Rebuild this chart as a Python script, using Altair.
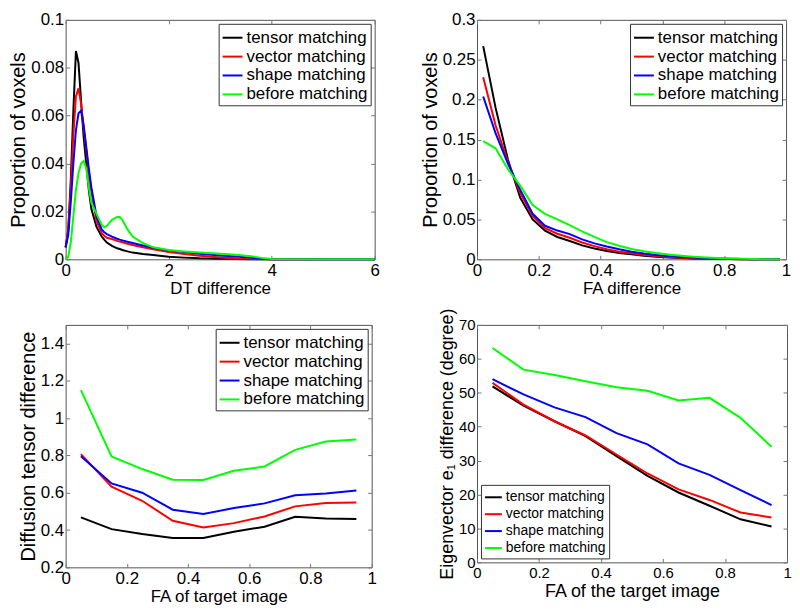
import altair as alt
import pandas as pd

FONT = "Liberation Sans"
SERIES = ["tensor matching", "vector matching", "shape matching", "before matching"]
COLORS = ["#000000", "#ff0000", "#0000ff", "#00ff00"]

# ---- Panel 1: DT difference histogram ----
dt_x = [0, 0.05, 0.1, 0.15, 0.2, 0.25, 0.3, 0.35, 0.4, 0.45, 0.5, 0.6, 0.7, 0.75, 0.8, 0.9,
        1.0, 1.05, 1.1, 1.2, 1.3, 1.5, 1.7, 2.0, 2.3, 2.6, 3.0, 3.3, 3.6, 3.8, 4.0, 5.0, 6.0]
dt_tensor = [0.005, 0.012, 0.033, 0.062, 0.087, 0.082, 0.066, 0.051, 0.040, 0.029, 0.021, 0.0135,
             0.0095, 0.0082, 0.007, 0.0056, 0.0046, 0.0043, 0.0039, 0.0033, 0.0028, 0.0022, 0.0018,
             0.0011, 0.0007, 0.0004, 0.0002, 0.0001, 0, 0, 0, 0, 0]
dt_vector = [0.005, 0.012, 0.03, 0.052, 0.068, 0.0714, 0.065, 0.055, 0.046, 0.036, 0.028, 0.016,
             0.011, 0.0098, 0.009, 0.0085, 0.0077, 0.0074, 0.0071, 0.0065, 0.006, 0.005, 0.0042,
             0.003, 0.0022, 0.0015, 0.0008, 0.0004, 0.0002, 0.0001, 0, 0, 0]
dt_shape = [0.005, 0.01, 0.024, 0.04, 0.054, 0.061, 0.062, 0.056, 0.047, 0.038, 0.03, 0.018,
            0.0125, 0.0113, 0.0105, 0.0095, 0.0086, 0.0082, 0.0079, 0.0073, 0.0068, 0.0058, 0.0048,
            0.0037, 0.003, 0.0023, 0.0016, 0.0012, 0.0007, 0.0002, 0, 0, 0]
dt_before = [0, 0.001, 0.007, 0.018, 0.029, 0.036, 0.040, 0.041, 0.038, 0.030, 0.0235, 0.019,
             0.0145, 0.0133, 0.014, 0.0165, 0.0177, 0.0177, 0.0165, 0.0125, 0.0095, 0.0068, 0.005,
             0.0039, 0.0033, 0.0028, 0.0023, 0.0019, 0.0013, 0.0006, 0.0001, 0, 0]

# ---- Panel 2: FA difference histogram ----
fa_x = [0.02, 0.06, 0.10, 0.14, 0.18, 0.22, 0.26, 0.30, 0.34, 0.38, 0.42, 0.46, 0.50,
        0.54, 0.58, 0.62, 0.66, 0.70, 0.74, 0.78, 0.82, 0.86, 0.90, 0.94, 0.98]
fa_tensor = [0.267, 0.19, 0.125, 0.077, 0.05, 0.036, 0.028, 0.023, 0.0175, 0.0135, 0.0105, 0.008,
             0.0062, 0.0045, 0.0032, 0.0022, 0.0015, 0.001, 0.0007, 0.0004, 0.0003, 0.0002, 0.0001, 0, 0]
fa_vector = [0.228, 0.168, 0.122, 0.083, 0.054, 0.039, 0.032, 0.027, 0.021, 0.0165, 0.0125, 0.0095,
             0.0075, 0.0055, 0.004, 0.0029, 0.002, 0.0014, 0.001, 0.0007, 0.0004, 0.0002, 0.0001, 0, 0]
fa_shape = [0.204, 0.158, 0.12, 0.087, 0.057, 0.042, 0.036, 0.0315, 0.025, 0.02, 0.016, 0.0125,
            0.0095, 0.0072, 0.0054, 0.004, 0.0029, 0.0021, 0.0015, 0.001, 0.0007, 0.0004, 0.0002, 0.0001, 0]
fa_before = [0.148, 0.139, 0.113, 0.092, 0.068, 0.057, 0.05, 0.0427, 0.035, 0.028, 0.0215, 0.017,
             0.013, 0.01, 0.0078, 0.006, 0.0045, 0.0033, 0.0023, 0.0015, 0.001, 0.0006, 0.0003, 0.0001, 0]

# ---- Panels 3 and 4: by FA of target image ----
tgt_x = [0.05, 0.15, 0.25, 0.35, 0.45, 0.55, 0.65, 0.75, 0.85, 0.95]
dtd_tensor = [0.468, 0.405, 0.379, 0.357, 0.357, 0.391, 0.418, 0.471, 0.462, 0.459]
dtd_vector = [0.807, 0.632, 0.557, 0.450, 0.414, 0.437, 0.473, 0.527, 0.545, 0.548]
dtd_shape = [0.796, 0.650, 0.600, 0.509, 0.486, 0.518, 0.543, 0.586, 0.596, 0.612]
dtd_before = [1.150, 0.795, 0.727, 0.670, 0.668, 0.718, 0.741, 0.830, 0.875, 0.886]

eig_tensor = [51.9, 46.2, 41.6, 37.2, 31.3, 25.5, 20.6, 16.7, 12.7, 10.6]
eig_vector = [52.9, 46.5, 41.6, 37.4, 31.8, 26.2, 21.5, 18.4, 14.7, 13.2]
eig_shape = [54.0, 49.5, 45.7, 42.8, 38.1, 34.8, 29.2, 25.8, 21.3, 16.9]
eig_before = [63.2, 56.8, 55.2, 53.4, 51.6, 50.6, 47.7, 48.5, 42.6, 34.1]


def long_df(x, ys):
    rows = []
    for name, vals in zip(SERIES, ys):
        for a, b in zip(x, vals):
            rows.append({"x": a, "y": b, "series": name})
    return pd.DataFrame(rows)


def panel(df, xdom, ydom, xticks, yticks, xtitle, ytitle, w, h, legend_orient,
          tick_fs=17, xtitle_fs=17, ytitle_fs=20, legend_fs=17, sym=400):
    xs = alt.Scale(domain=xdom, nice=False, zero=False)
    ys = alt.Scale(domain=ydom, nice=False, zero=False)
    legend = alt.Legend(orient=legend_orient, title=None, offset=4, fillColor="white",
                        strokeColor="#333333", padding=3, symbolType="stroke",
                        symbolSize=sym, symbolStrokeWidth=2, labelFontSize=legend_fs,
                        labelFont=FONT, labelColor="black", labelOffset=3, rowPadding=0,
                        labelLimit=400)
    lines = alt.Chart(df).mark_line(strokeWidth=2).encode(
        x=alt.X("x:Q", scale=xs, axis=alt.Axis(values=xticks, format="~r", title=xtitle,
                                               labelFontSize=tick_fs, titleFontSize=xtitle_fs,
                                               ticks=False, tickSize=0, labelPadding=3,
                                               titlePadding=2)),
        y=alt.Y("y:Q", scale=ys, axis=alt.Axis(values=yticks, format="~r", title=ytitle,
                                               labelFontSize=tick_fs, titleFontSize=ytitle_fs,
                                               ticks=False, tickSize=0, labelPadding=2,
                                               titlePadding=2)),
        color=alt.Color("series:N", scale=alt.Scale(domain=SERIES, range=COLORS), legend=legend),
    )
    tick_ax = dict(offset=-4, tickSize=4, labels=False, title=None, domain=False, grid=False,
                   tickColor="#777777")
    ticks_bl = alt.Chart(df).mark_point(opacity=0).encode(
        x=alt.X("x:Q", scale=xs, axis=alt.Axis(orient="bottom", values=xticks, **tick_ax)),
        y=alt.Y("y:Q", scale=ys, axis=alt.Axis(orient="left", values=yticks, **tick_ax)),
    )
    ticks_tr = alt.Chart(df).mark_point(opacity=0).encode(
        x=alt.X("x:Q", scale=xs, axis=alt.Axis(orient="top", values=xticks, **tick_ax)),
        y=alt.Y("y:Q", scale=ys, axis=alt.Axis(orient="right", values=yticks, **tick_ax)),
    )
    return alt.layer(lines, ticks_bl, ticks_tr).resolve_axis(
        x="independent", y="independent").properties(width=w, height=h)


p1 = panel(long_df(dt_x, [dt_tensor, dt_vector, dt_shape, dt_before]),
           [0, 6], [0, 0.1], [0, 2, 4, 6], [0, 0.02, 0.04, 0.06, 0.08, 0.1],
           "DT difference", "Proportion of voxels", 311, 241, "top-right")
p2 = panel(long_df(fa_x, [fa_tensor, fa_vector, fa_shape, fa_before]),
           [0, 1], [0, 0.3], [0, 0.2, 0.4, 0.6, 0.8, 1], [0, 0.05, 0.1, 0.15, 0.2, 0.25, 0.3],
           "FA difference", "Proportion of voxels", 311, 241, "top-right")
p3 = panel(long_df(tgt_x, [dtd_tensor, dtd_vector, dtd_shape, dtd_before]),
           [0, 1], [0.2, 1.5], [0, 0.2, 0.4, 0.6, 0.8, 1], [0.2, 0.4, 0.6, 0.8, 1, 1.2, 1.4],
           "FA of target image", "Diffusion tensor difference", 308, 244, "top-right")
p4 = panel(long_df(tgt_x, [eig_tensor, eig_vector, eig_shape, eig_before]),
           [0, 1], [0, 70], [0, 0.2, 0.4, 0.6, 0.8, 1], [0, 10, 20, 30, 40, 50, 60, 70],
           "FA of the target image", "Eigenvector e\u2081 difference (degree)", 312, 239,
           "bottom-left", tick_fs=15, xtitle_fs=18, ytitle_fs=18, legend_fs=14, sym=289)

chart = alt.concat(p1, p2, p3, p4, columns=2, spacing={"row": 66, "column": 103},
                   bounds="flush").properties(
    padding=0, background="white"
).configure(font=FONT).configure_view(
    stroke="#555555", strokeWidth=1
).configure_axis(
    labelFont=FONT, titleFont=FONT, labelColor="black", titleColor="black",
    titleFontWeight="normal", grid=False, domain=False, labelFlush=False,
    labelOverlap=False
)

chart.save("out.html", embed_options={"renderer": "svg", "actions": False})
